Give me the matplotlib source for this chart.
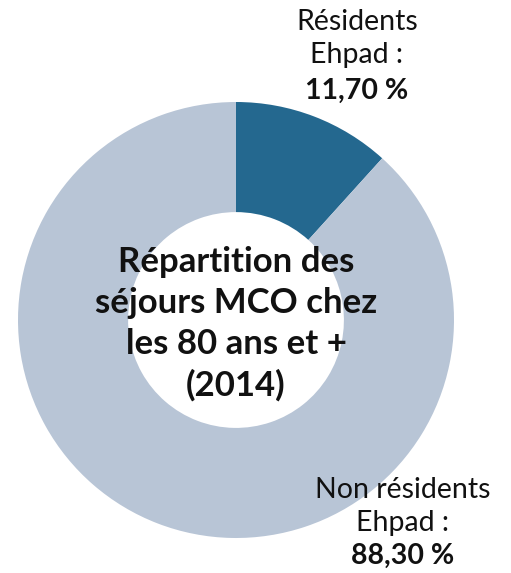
import matplotlib.pyplot as plt

# data
labels = ['Résidents Ehpad', 'Non résidents Ehpad']
values = [11.70, 88.30]
colors = ['#24688f', '#b8c5d6']
value_texts = ['11,70 %', '88,30 %']
center_title = ['Répartition des', 'séjours MCO chez', 'les 80 ans et +', '(2014)']

W, H = 511, 573
fig = plt.figure(figsize=(W / 100, H / 100), dpi=100)
ax = fig.add_axes([0, 0, 1, 1])
ax.set_xlim(0, W)
ax.set_ylim(0, H)
ax.set_aspect('equal')
ax.axis('off')

cx, cy, r = 236, H - 320, 218
ax.pie(values, colors=colors, startangle=90, counterclock=False,
       center=(cx, cy), radius=r,
       wedgeprops=dict(width=r * 0.505, linewidth=0))
ax.set_xlim(0, W)
ax.set_ylim(0, H)

def y(px):
    return H - px

font = 'Lato'
# centre title
for i, line in enumerate(center_title):
    ax.text(cx, y(262 + i * 41), line, ha='center', va='center',
            fontsize=25, fontweight='bold', family=font, color='#111111')

# label for residents
ax.text(357, y(22), 'Résidents', ha='center', va='center', fontsize=20.5, family=font, color='#111111')
ax.text(357, y(55), 'Ehpad :', ha='center', va='center', fontsize=20.5, family=font, color='#111111')
ax.text(357, y(91), value_texts[0], ha='center', va='center', fontsize=20.5,
        fontweight='bold', family=font, color='#111111')

# label for non residents
ax.text(403, y(490), 'Non résidents', ha='center', va='center', fontsize=20.5, family=font, color='#111111')
ax.text(403, y(523), 'Ehpad :', ha='center', va='center', fontsize=20.5, family=font, color='#111111')
ax.text(403, y(556), value_texts[1], ha='center', va='center', fontsize=20.5,
        fontweight='bold', family=font, color='#111111')

fig.savefig('out.png', dpi=100, facecolor='white')
